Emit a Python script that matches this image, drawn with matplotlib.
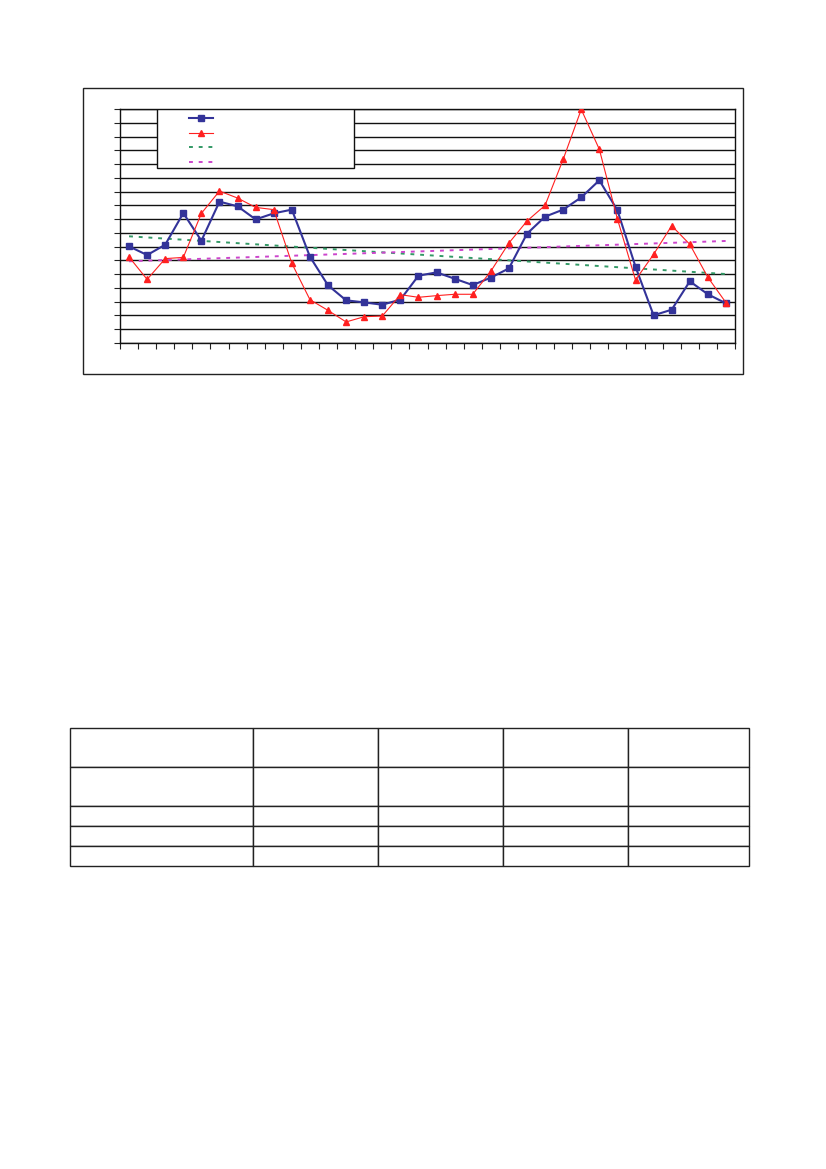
import numpy as np
from matplotlib import pyplot as plt
from matplotlib.lines import Line2D
from matplotlib.patches import Rectangle

# values (34 unlabelled categories)
blue = [7.02, 6.39, 7.14, 9.44, 7.43, 10.27, 9.93, 8.98, 9.42, 9.69,
        6.27, 4.19, 3.10, 2.95, 2.78, 3.15, 4.89, 5.13, 4.67, 4.21,
        4.75, 5.42, 7.94, 9.18, 9.69, 10.58, 11.82, 9.64, 5.54, 2.01,
        2.42, 4.48, 3.54, 2.88]
red = [6.25, 4.62, 6.13, 6.22, 9.42, 11.04, 10.53, 9.85, 9.69, 5.79,
       3.15, 2.37, 1.53, 1.91, 1.96, 3.51, 3.32, 3.44, 3.54, 3.54,
       5.21, 7.26, 8.86, 10.0, 13.34, 16.97, 14.07, 9.01, 4.58, 6.44,
       8.52, 7.17, 4.77, 2.93]
cats = np.arange(len(blue))
ymax = 17

fig = plt.figure(figsize=(8.26, 11.69), dpi=100)

# chart frame
fig.patches.append(Rectangle((83/826, 1-374/1169), 660/826, 286/1169,
                             transform=fig.transFigure, fill=False,
                             edgecolor='#222222', linewidth=1.0))

ax = fig.add_axes([120/826, 1-343/1169, 615/826, 234/1169])
ax.plot(cats, blue, color='#333399', marker='s', markersize=3.8, linewidth=1.5, zorder=4)
ax.plot(cats, red, color='#ff2020', marker='^', markersize=4.2, linewidth=0.8, zorder=4)

# linear trends
tb = np.polyval(np.polyfit(cats, blue, 1), cats)
tr = np.polyval(np.polyfit(cats, red, 1), cats)
ax.plot(cats, tb, color='#339966', linestyle=(0, (2, 3)), linewidth=1.4, zorder=3)
ax.plot(cats, tr, color='#cc44cc', linestyle=(0, (2, 3)), linewidth=1.4, zorder=3)

ax.set_xlim(-0.5, len(cats) - 0.5)
ax.set_ylim(0, ymax)
ax.set_xticks(np.arange(-0.5, len(cats), 1))
ax.set_yticks(np.arange(0, ymax + 1, 1))
ax.set_xticklabels([])
ax.set_yticklabels([])
ax.tick_params(direction='out', length=4, width=0.8, color='#222222')
ax.yaxis.grid(True, color='#111111', linewidth=1.0)
ax.set_axisbelow(True)
for s in ax.spines.values():
    s.set_color('#111111')
    s.set_linewidth(1.0)

# legend box (labels left blank as in the reference)
ax.add_patch(Rectangle((37/615, 1-59/234), 197/615, 59/234, transform=ax.transAxes,
                       facecolor='white', edgecolor='#111111', linewidth=1.0, zorder=5))
handles = [Line2D([], [], color='#333399', marker='s', markersize=3.8, linewidth=1.5),
           Line2D([], [], color='#ff2020', marker='^', markersize=4.2, linewidth=0.8),
           Line2D([], [], color='#339966', linestyle=(0, (2, 3)), linewidth=1.4),
           Line2D([], [], color='#cc44cc', linestyle=(0, (2, 3)), linewidth=1.4)]
leg = ax.legend(handles, [' '] * 4, loc='upper left',
                bbox_to_anchor=((189 - 4.4 - 120)/615, 1.0 - 0.6/234),
                frameon=False, fontsize=8, labelspacing=0.42, handlelength=2.2,
                borderpad=0.4, borderaxespad=0)
leg.set_zorder(6)

# empty table below the chart
tax = fig.add_axes([70/826, 1-866/1169, 679/826, 138/1169])
tax.axis('off')
col_w = [183, 125, 125, 125, 121]
row_h = [39, 39, 20, 20, 20]
tbl = tax.table(cellText=[[''] * 5 for _ in row_h], colWidths=[w / sum(col_w) for w in col_w],
                bbox=[0, 0, 1, 1])
for (r, c), cell in tbl.get_celld().items():
    cell.set_height(row_h[r] / sum(row_h))
    cell.set_edgecolor('#222222')
    cell.set_linewidth(1.0)

fig.savefig('out.png', dpi=100)
